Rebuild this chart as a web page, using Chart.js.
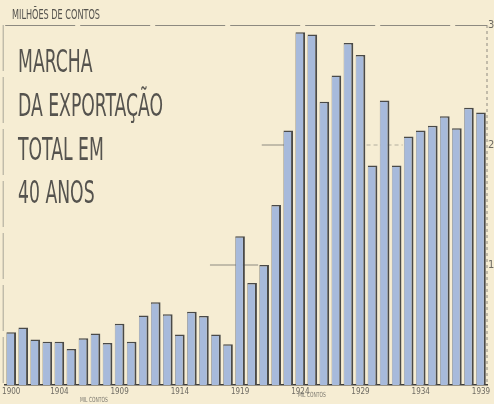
<!DOCTYPE html>
<html>
<head>
<meta charset="utf-8">
<script src="https://cdn.jsdelivr.net/npm/chart.js@4.4.1/dist/chart.umd.min.js"></script>
<style>
  html, body { margin: 0; padding: 0; background: #f6edd3; }
  #chart-container { width: 494px; height: 404px; }
</style>
</head>
<body>
<div id="chart-container"><canvas id="exportChart"></canvas></div>
<script>
// Years (categories)
const years = ['1900','1901','1902','1903','1904','1905','1906','1907','1908','1909',
               '1910','1911','1912','1913','1914','1915','1916','1917','1918','1919',
               '1920','1921','1922','1923','1924','1925','1926','1927','1928','1929',
               '1930','1931','1932','1933','1934','1935','1936','1937','1938','1939'];

// Total exports, millions of contos
const exportValues = [0.44, 0.48, 0.38, 0.36, 0.36, 0.30, 0.39, 0.43, 0.35, 0.51,
                      0.36, 0.58, 0.69, 0.59, 0.42, 0.61, 0.575, 0.42, 0.34, 1.24,
                      0.85, 1.00, 1.50, 2.12, 2.94, 2.92, 2.36, 2.58, 2.85, 2.75,
                      1.83, 2.37, 1.83, 2.07, 2.12, 2.16, 2.24, 2.14, 2.31, 2.27];

// Labelled years on the x axis, values on the y axis
const yearLabels = ['1900','1904','1909','1914','1919','1924','1929','1934','1939'];
const yTickValues = [1, 2, 3];

// Texts
const titleLines = ['MARCHA', 'DA EXPORTAÇÃO', 'TOTAL EM', '40 ANOS'];
const unitLabel = 'MILHÕES DE CONTOS';
const subUnitLabel = 'MIL CONTOS';

const FONT = "'DejaVu Sans Condensed', 'DejaVu Sans', sans-serif";
const INK = '#55534e';

// squeezed text, like the hand lettering
function narrowText(ctx, text, x, y, size, sx) {
  ctx.save();
  ctx.font = size + 'px ' + FONT;
  ctx.translate(x, y);
  ctx.scale(sx, 1);
  ctx.fillText(text, 0, 0);
  ctx.restore();
}

const paperPlugin = {
  id: 'paper',
  beforeDraw(chart) {
    const ctx = chart.ctx;
    ctx.save();
    ctx.fillStyle = '#f6edd3';
    ctx.fillRect(0, 0, chart.width, chart.height);
    ctx.restore();
  },
  beforeDatasetsDraw(chart) {
    const ctx = chart.ctx;
    const x = chart.scales.x, y = chart.scales.y;
    const area = chart.chartArea;
    ctx.save();
    ctx.strokeStyle = '#8d8a80';
    ctx.lineWidth = 1;
    // short marker lines at 1 and 2
    ctx.beginPath();
    ctx.moveTo(x.getPixelForValue(16.5), y.getPixelForValue(1));
    ctx.lineTo(x.getPixelForValue(20.5), y.getPixelForValue(1));
    ctx.moveTo(x.getPixelForValue(20.8), y.getPixelForValue(2));
    ctx.lineTo(x.getPixelForValue(22.8), y.getPixelForValue(2));
    ctx.stroke();
    ctx.setLineDash([4, 3]);
    ctx.strokeStyle = '#b3ae9e';
    ctx.beginPath();
    ctx.moveTo(x.getPixelForValue(29.5), y.getPixelForValue(2));
    ctx.lineTo(x.getPixelForValue(32.5), y.getPixelForValue(2));
    ctx.stroke();
    // left faint border
    ctx.setLineDash([46, 6]);
    ctx.strokeStyle = '#a9a598';
    ctx.beginPath();
    ctx.moveTo(area.left - 2, area.top);
    ctx.lineTo(area.left - 2, area.bottom);
    ctx.stroke();
    // right dashed border
    ctx.setLineDash([3, 3]);
    ctx.strokeStyle = '#8d8a80';
    ctx.beginPath();
    ctx.moveTo(area.right, area.top);
    ctx.lineTo(area.right, area.bottom);
    ctx.stroke();
    ctx.restore();
  },
  afterDraw(chart) {
    const ctx = chart.ctx;
    ctx.save();
    ctx.fillStyle = INK;
    ctx.textBaseline = 'alphabetic';
    ctx.font = '32px ' + FONT;
    const sx = 145 / ctx.measureText(titleLines[1]).width;
    const baselines = [72, 116, 160, 203];
    titleLines.forEach((t, i) => narrowText(ctx, t, 18, baselines[i], 32, sx));
    ctx.font = '14px ' + FONT;
    const sx2 = 88 / ctx.measureText(unitLabel).width;
    narrowText(ctx, unitLabel, 12, 19, 14, sx2);
    ctx.fillStyle = '#7a776e';
    narrowText(ctx, subUnitLabel, 80, 402, 7, 0.7);
    narrowText(ctx, subUnitLabel, 298, 397, 7, 0.7);
    ctx.restore();
  }
};

const ctx = document.getElementById('exportChart').getContext('2d');

new Chart(ctx, {
  type: 'bar',
  data: {
    labels: years,
    datasets: [{
      data: exportValues,
      backgroundColor: '#a7badb',
      borderColor: '#4a4a48',
      borderWidth: { top: 1.5, right: 2, left: 0.5, bottom: 0 },
      borderSkipped: false,
      barPercentage: 0.8,
      categoryPercentage: 1.0
    }]
  },
  options: {
    responsive: true,
    maintainAspectRatio: false,
    animation: false,
    layout: { padding: { left: 5, top: 25, right: 0, bottom: 0 } },
    plugins: {
      legend: { display: false },
      tooltip: { enabled: false }
    },
    scales: {
      x: {
        grid: { display: false, drawTicks: false },
        border: { display: true, color: '#3e3d3a', width: 1.5 },
        ticks: {
          autoSkip: false,
          maxRotation: 0,
          padding: 2,
          color: '#6d6a62',
          font: { family: FONT, size: 8 },
          callback: function(value, index) {
            return yearLabels.includes(years[index]) ? years[index] : '';
          }
        },
        afterFit: scale => { scale.height = 19; }
      },
      y: {
        position: 'right',
        min: 0,
        max: 3,
        afterBuildTicks: scale => { scale.ticks = yTickValues.map(v => ({ value: v })); },
        grid: {
          drawTicks: false,
          lineWidth: 1,
          color: c => (c.tick && c.tick.value === 3) ? '#8d8a80' : 'transparent'
        },
        border: { display: false, dash: [70, 5] },
        ticks: {
          padding: 1,
          color: '#6d6a62',
          font: { family: FONT, size: 11 }
        },
        afterFit: scale => { scale.width = 7; }
      }
    }
  },
  plugins: [paperPlugin]
});
</script>
</body>
</html>
